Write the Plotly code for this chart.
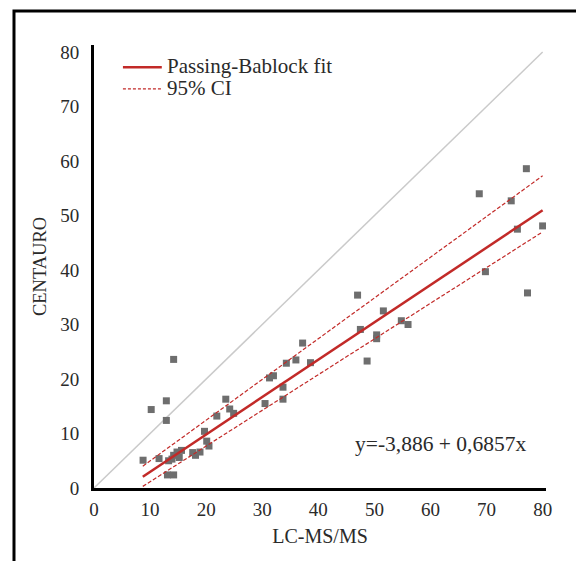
import plotly.graph_objects as go

# Measured data (LC-MS/MS vs CENTAURO)
lcms = [8.75, 10.2, 11.6, 12.9, 12.9, 13.1, 14.2, 14.2, 13.3, 14.2, 14.8, 15.2, 15.6, 13.9,
        17.6, 18.1, 18.9, 19.7, 20.1, 20.5, 21.9, 23.5, 24.2, 24.9, 30.5, 31.3, 32.0, 33.7,
        33.7, 34.3, 36.0, 37.2, 38.6, 47.0, 47.5, 48.7, 50.4, 50.4, 51.6, 54.8, 56.0, 68.7,
        69.8, 74.4, 75.5, 77.1, 77.3, 80.0]
centauro = [5.1, 14.4, 5.4, 16.0, 12.4, 2.4, 2.4, 23.6, 5.0, 6.0, 6.6, 5.6, 6.9, 5.3,
            6.5, 6.0, 6.6, 10.4, 8.6, 7.7, 13.2, 16.3, 14.5, 13.7, 15.5, 20.2, 20.6, 18.5,
            16.3, 22.9, 23.5, 26.6, 23.0, 35.4, 29.1, 23.3, 28.1, 27.4, 32.5, 30.7, 30.0, 54.0,
            39.7, 52.7, 47.5, 58.6, 35.8, 48.1]

# Passing-Bablok fit and CI line end points
fit_x = [8.7, 80.0]
fit_intercept = -3.886
fit_slope = 0.6857
ci_upper = [4.0, 57.3]
ci_lower = [0.3, 47.0]
identity = [0, 80]
ticks = [0, 10, 20, 30, 40, 50, 60, 70, 80]
legend_labels = ["Passing-Bablock fit", "95% CI"]

fit_y = [fit_intercept + fit_slope * x for x in fit_x]

FONT = "Liberation Serif, DejaVu Serif, serif"
RED = "#c22a28"
TXT = "#2a2a2a"

fig = go.Figure()
fig.add_trace(go.Scatter(x=identity, y=identity, mode="lines",
                         line=dict(color="#cacaca", width=1.5), showlegend=False, hoverinfo="skip"))
fig.add_trace(go.Scatter(x=lcms, y=centauro, mode="markers",
                         marker=dict(symbol="square", size=7, color="#6e6e6e"), showlegend=False))
fig.add_trace(go.Scatter(x=fit_x, y=fit_y, mode="lines", showlegend=False,
                         line=dict(color=RED, width=2.5)))
fig.add_trace(go.Scatter(x=fit_x, y=ci_upper, mode="lines", showlegend=False,
                         line=dict(color=RED, width=1.2, dash="4px,2px")))
fig.add_trace(go.Scatter(x=fit_x, y=ci_lower, mode="lines", showlegend=False,
                         line=dict(color=RED, width=1.2, dash="4px,2px")))

# Manual legend
fig.add_shape(type="line", xref="paper", yref="paper", x0=0.064, x1=0.150, y0=0.950, y1=0.950,
              line=dict(color=RED, width=2.5))
fig.add_shape(type="line", xref="paper", yref="paper", x0=0.064, x1=0.150, y0=0.901, y1=0.901,
              line=dict(color=RED, width=1.2, dash="3px,2px"))
fig.add_annotation(xref="paper", yref="paper", x=0.158, y=0.952, text=legend_labels[0],
                   showarrow=False, xanchor="left", yanchor="middle",
                   font=dict(family=FONT, size=21, color=TXT))
fig.add_annotation(xref="paper", yref="paper", x=0.158, y=0.903, text=legend_labels[1],
                   showarrow=False, xanchor="left", yanchor="middle",
                   font=dict(family=FONT, size=21, color=TXT))

fig.add_annotation(x=61.8, y=8.1, text="y=-3,886 + 0,6857x", showarrow=False,
                   font=dict(family=FONT, size=21.5, color=TXT), xanchor="center", yanchor="middle")

# Outer frame
fig.add_shape(type="rect", xref="paper", yref="paper", x0=-0.177, x1=1.071, y0=-0.25, y1=1.077,
              line=dict(color="black", width=3), layer="below")

fig.update_layout(
    width=584, height=561,
    margin=dict(l=86, r=46, t=37, b=81),
    paper_bgcolor="white", plot_bgcolor="white",
    font=dict(family=FONT, size=19, color=TXT),
    showlegend=False,
    xaxis=dict(range=[0, 80.6], tickvals=ticks,
               showgrid=False, zeroline=False, showline=True, linecolor="black", linewidth=3,
               ticks="", ticklabelstandoff=2,
               title=dict(text="LC-MS/MS", font=dict(family=FONT, size=20), standoff=11)),
    yaxis=dict(range=[0, 81.3], tickvals=ticks,
               showgrid=False, zeroline=False, showline=True, linecolor="black", linewidth=3,
               ticks="", ticklabelstandoff=8,
               title=dict(text="CENTAURO", font=dict(family=FONT, size=18.5), standoff=9)),
)

fig.write_html("out.html")
